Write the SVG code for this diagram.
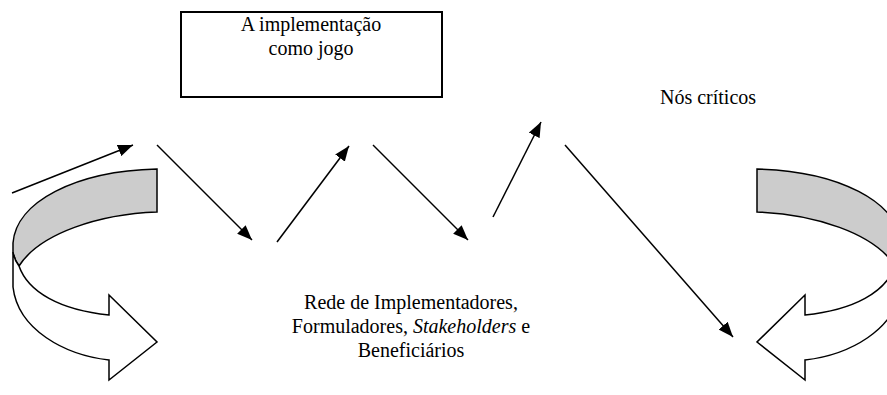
<svg xmlns="http://www.w3.org/2000/svg" xmlns:xlink="http://www.w3.org/1999/xlink" width="887" height="395" viewBox="0 0 887 395">
<style>
.t{font-family:"Liberation Serif","Times New Roman",serif;font-size:20px;fill:#000;text-anchor:middle}
.c{stroke:#000;stroke-width:1.5;fill:none}
.rb{stroke:#000;stroke-width:1.5;stroke-linejoin:miter}
</style>
<defs>
<marker id="ah" viewBox="0 0 15 12" refX="15" refY="6" markerWidth="15" markerHeight="12" markerUnits="userSpaceOnUse" orient="auto">
<path d="M0,0 L15,6 L0,12 Z" fill="#000"/>
</marker>
<g id="curl">
<path class="rb" fill="#cccccc" d="M157,169 C75,171 16,202 13,243 L13,252 C14,258 16,262 19,266 C40,233 100,214 157,212 Z"/>
<path class="rb" fill="#ffffff" d="M13,252 L13,287 C18,330 65,355 109,360 L109,380 L157,342 L109,295 L109,315 C60,310 28,292 19,266 C16,262 14,258 13,252 Z"/>
</g>
</defs>
<rect width="887" height="395" fill="#fff"/>
<g id="node-jogo">
<rect x="181" y="12" width="261" height="85" fill="#fff" stroke="#000" stroke-width="2"/>
<text class="t" x="311" y="31">A implementação</text>
<text class="t" x="311" y="55">como jogo</text>
</g>
<g id="node-nos">
<text class="t" x="708" y="104">Nós críticos</text>
</g>
<g id="node-rede">
<text class="t" x="411" y="309">Rede de Implementadores,</text>
<text class="t" x="411" y="333">Formuladores, <tspan font-style="italic">Stakeholders</tspan> e</text>
<text class="t" x="411" y="357">Beneficiários</text>
</g>
<g id="curl-left"><use xlink:href="#curl"/></g>
<g id="curl-right"><use xlink:href="#curl" transform="translate(914,0) scale(-1,1)"/></g>
<g id="connectors" class="c">
<line x1="12" y1="193" x2="133" y2="145" marker-end="url(#ah)"/>
<line x1="157" y1="145" x2="252" y2="240" marker-end="url(#ah)"/>
<line x1="277" y1="242" x2="349" y2="146" marker-end="url(#ah)"/>
<line x1="373" y1="145" x2="468" y2="240" marker-end="url(#ah)"/>
<line x1="493" y1="217" x2="541" y2="122" marker-end="url(#ah)"/>
<line x1="565" y1="145" x2="733" y2="337" marker-end="url(#ah)"/>
</g>
</svg>
